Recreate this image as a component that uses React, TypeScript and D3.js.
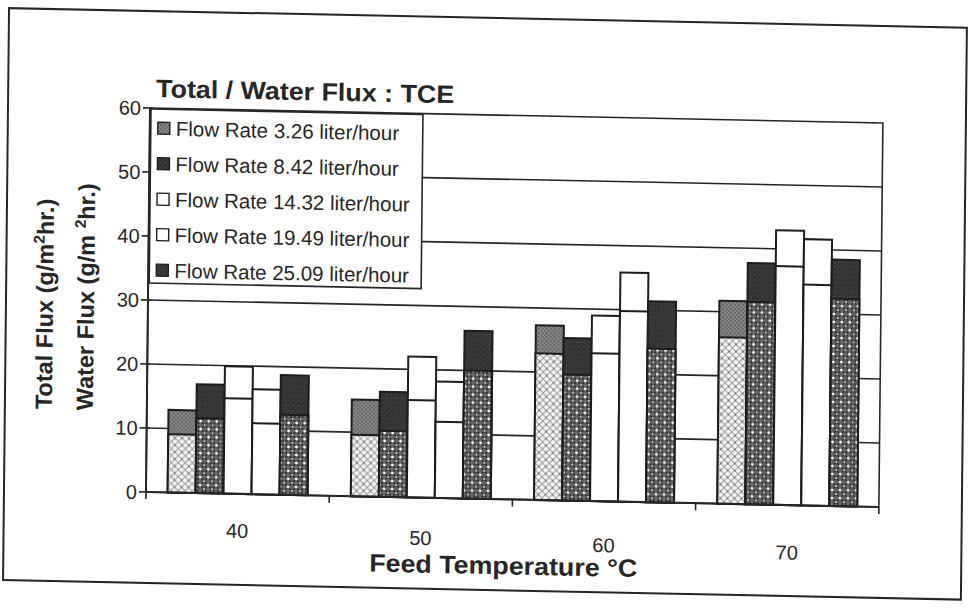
import React from 'react';
import * as d3 from 'd3';

// Feed temperatures (°C) on the category axis
const categories = ['40', '50', '60', '70'];

// Flow rate series, in legend order
const seriesNames = [
  'Flow Rate 3.26 liter/hour',
  'Flow Rate 8.42 liter/hour',
  'Flow Rate 14.32 liter/hour',
  'Flow Rate 19.49 liter/hour',
  'Flow Rate 25.09 liter/hour',
];

// Total flux (g/m²hr.) per series, one value per feed temperature
const totalFlux3_26 = [12.9, 15.1, 27.3, 31.7];
const totalFlux8_42 = [17.0, 16.4, 25.4, 37.7];
const totalFlux14_32 = [19.9, 22.0, 29.0, 42.9];
const totalFlux19_49 = [16.4, 18.2, 35.8, 41.6];
const totalFlux25_09 = [18.7, 26.2, 31.4, 38.5];

// Water flux (g/m²hr.) per series, one value per feed temperature
const waterFlux3_26 = [9.1, 9.6, 22.9, 26.0];
const waterFlux8_42 = [11.7, 10.3, 19.7, 31.6];
const waterFlux14_32 = [14.9, 15.2, 23.1, 37.3];
const waterFlux19_49 = [11.1, 11.9, 29.8, 34.5];
const waterFlux25_09 = [12.5, 20.0, 24.0, 32.4];

const yTicks = [0, 10, 20, 30, 40, 50, 60];

const totals = [totalFlux3_26, totalFlux8_42, totalFlux14_32, totalFlux19_49, totalFlux25_09];
const waters = [waterFlux3_26, waterFlux8_42, waterFlux14_32, waterFlux19_49, waterFlux25_09];

// fill for the total part (top) and water part (bottom) of each series' bar
const topFills = ['url(#grayTop)', 'url(#darkTop)', '#ffffff', '#ffffff', 'url(#darkTop)'];
const bottomFills = ['url(#lightHatch)', 'url(#denseHatch)', '#ffffff', '#ffffff', 'url(#denseHatch)'];

const W = 974;
const H = 612;
const plot = { left: 150, top: 108, right: 883, bottom: 492 };
const INK = '#262626';
const SANS = "'Liberation Sans', Arial, sans-serif";

export default function App() {
  const x = d3.scaleBand<string>().domain(categories).range([plot.left, plot.right]);
  const barW = 28;
  const groupW = barW * seriesNames.length;
  const xs = d3
    .scaleBand<number>()
    .domain(d3.range(seriesNames.length))
    .range([0, groupW]);
  const y = d3.scaleLinear().domain([0, 60]).range([plot.bottom, plot.top]);
  const groupOffset = (x.bandwidth() - groupW) / 2;

  const tilt = `translate(${plot.left},${plot.top}) rotate(0.6) skewY(0.57) translate(${-plot.left},${-plot.top})`;

  const legend = { x: 151, y: 109, w: 272, h: 174 };
  const rowH = 35.5;

  return (
    <svg
      width={W}
      height={H}
      viewBox={`0 0 ${W} ${H}`}
      style={{ position: 'absolute', left: 0, top: 0, background: '#fff' }}
    >
      <defs>
        <pattern id="lightHatch" width="7" height="7" patternUnits="userSpaceOnUse">
          <rect width="7" height="7" fill="#f4f4f4" />
          <path d="M0,0 L7,7 M7,0 L0,7" stroke="#9a9a9a" strokeWidth="0.9" />
          <circle cx="3.5" cy="3.5" r="0.9" fill="#6a6a6a" />
        </pattern>
        <pattern id="denseHatch" width="8" height="8" patternUnits="userSpaceOnUse">
          <rect width="8" height="8" fill="#666666" />
          <path d="M0,0 L8,8 M8,0 L0,8 M-2,6 L2,10 M6,-2 L10,2 M-2,2 L2,-2 M6,10 L10,6" stroke="#2a2a2a" strokeWidth="1.4" />
          <circle cx="4" cy="4" r="1.4" fill="#ffffff" />
          <circle cx="0" cy="0" r="1.1" fill="#d8d8d8" />
          <circle cx="8" cy="0" r="1.1" fill="#d8d8d8" />
          <circle cx="0" cy="8" r="1.1" fill="#d8d8d8" />
          <circle cx="8" cy="8" r="1.1" fill="#d8d8d8" />
        </pattern>
        <pattern id="grayTop" width="4" height="4" patternUnits="userSpaceOnUse">
          <rect width="4" height="4" fill="#8c8c8c" />
          <rect width="2" height="2" fill="#5e5e5e" />
          <rect x="2" y="2" width="2" height="2" fill="#6a6a6a" />
        </pattern>
        <pattern id="darkTop" width="5" height="5" patternUnits="userSpaceOnUse">
          <rect width="5" height="5" fill="#333333" />
          <rect x="1" y="2" width="1" height="1" fill="#555" />
          <rect x="3" y="0" width="1" height="1" fill="#4a4a4a" />
          <rect x="4" y="3" width="1" height="1" fill="#505050" />
        </pattern>
      </defs>

      <g transform={tilt}>
        {/* outer chart frame */}
        <rect x={8} y={11} width={958} height={572} fill="#fff" stroke={INK} strokeWidth={2} />

        {/* chart title */}
        <text
          x={156}
          y={97}
          fontFamily={SANS}
          fontWeight="bold"
          fontSize={25}
          textLength={298}
          lengthAdjust="spacingAndGlyphs"
          fill={INK}
        >
          Total / Water Flux : TCE
        </text>

        {/* plot area and gridlines */}
        <rect
          x={plot.left}
          y={plot.top}
          width={plot.right - plot.left}
          height={plot.bottom - plot.top}
          fill="#fff"
          stroke={INK}
          strokeWidth={1.6}
        />
        {yTicks.slice(1, -1).map((t) => (
          <line
            key={`g${t}`}
            x1={plot.left}
            x2={plot.right}
            y1={y(t)}
            y2={y(t)}
            stroke={INK}
            strokeWidth={1.6}
          />
        ))}

        {/* bars: total flux behind, water flux in front */}
        {categories.map((c, ci) =>
          seriesNames.map((_, si) => {
            const bx = (x(c) as number) + groupOffset + (xs(si) as number);
            const tot = totals[si][ci];
            const wat = waters[si][ci];
            return (
              <g key={`${c}-${si}`}>
                <rect
                  x={bx}
                  y={y(tot)}
                  width={xs.bandwidth()}
                  height={y(0) - y(tot)}
                  fill={topFills[si]}
                  stroke="#1c1c1c"
                  strokeWidth={2}
                />
                <rect
                  x={bx}
                  y={y(wat)}
                  width={xs.bandwidth()}
                  height={y(0) - y(wat)}
                  fill={bottomFills[si]}
                  stroke="#1c1c1c"
                  strokeWidth={2}
                />
              </g>
            );
          })
        )}

        {/* y axis */}
        <line x1={plot.left} x2={plot.left} y1={plot.top} y2={plot.bottom} stroke={INK} strokeWidth={2} />
        {yTicks.map((t) => (
          <g key={`yt${t}`}>
            <line x1={plot.left - 7} x2={plot.left + 3} y1={y(t)} y2={y(t)} stroke={INK} strokeWidth={1.6} />
            <text
              x={plot.left - 9}
              y={y(t)}
              dy="0.36em"
              textAnchor="end"
              fontFamily={SANS}
              fontSize={20}
              fill={INK}
            >
              {t}
            </text>
          </g>
        ))}

        {/* x axis */}
        <line x1={plot.left} x2={plot.right} y1={plot.bottom} y2={plot.bottom} stroke={INK} strokeWidth={2} />
        {categories.map((c) => (
          <line
            key={`xt${c}`}
            x1={x(c) as number}
            x2={x(c) as number}
            y1={plot.bottom}
            y2={plot.bottom + 7}
            stroke={INK}
            strokeWidth={1.6}
          />
        ))}
        <line x1={plot.right} x2={plot.right} y1={plot.bottom} y2={plot.bottom + 7} stroke={INK} strokeWidth={1.6} />
        {categories.map((c, ci) => (
          <text
            key={`xl${c}`}
            x={(x(c) as number) + x.bandwidth() / 2}
            y={536 + ci * 3.5}
            textAnchor="middle"
            fontFamily={SANS}
            fontSize={20}
            fill={INK}
          >
            {c}
          </text>
        ))}

        {/* axis titles */}
        <text
          x={508}
          y={567}
          textAnchor="middle"
          fontFamily={SANS}
          fontWeight="bold"
          fontSize={25}
          textLength={268}
          lengthAdjust="spacingAndGlyphs"
          fill={INK}
        >
          Feed Temperature °C
        </text>
        <text
          transform="translate(55,306) rotate(-90)"
          textAnchor="middle"
          fontFamily={SANS}
          fontWeight="bold"
          fontSize={23.5}
          fill={INK}
        >
          Total Flux (g/m<tspan dy={-9} fontSize={15.5}>2</tspan>
          <tspan dy={9}>hr.)</tspan>
        </text>
        <text
          transform="translate(96,298) rotate(-90)"
          textAnchor="middle"
          fontFamily={SANS}
          fontWeight="bold"
          fontSize={23.5}
          fill={INK}
        >
          Water Flux (g/m <tspan dy={-9} fontSize={15.5}>2</tspan>
          <tspan dy={9}>hr.)</tspan>
        </text>

        {/* legend */}
        <rect x={legend.x} y={legend.y} width={legend.w} height={legend.h} fill="#fff" stroke={INK} strokeWidth={1.6} />
        {seriesNames.map((name, si) => {
          const cy = legend.y + 19 + si * rowH;
          return (
            <g key={`lg${si}`}>
              <rect
                x={legend.x + 7}
                y={cy - 6}
                width={12}
                height={12}
                fill={topFills[si]}
                stroke="#1c1c1c"
                strokeWidth={1.4}
              />
              <text
                x={legend.x + 25}
                y={cy}
                dy="0.36em"
                fontFamily={SANS}
                fontSize={20.5}
                fill={INK}
              >
                {name}
              </text>
            </g>
          );
        })}
      </g>
    </svg>
  );
}
